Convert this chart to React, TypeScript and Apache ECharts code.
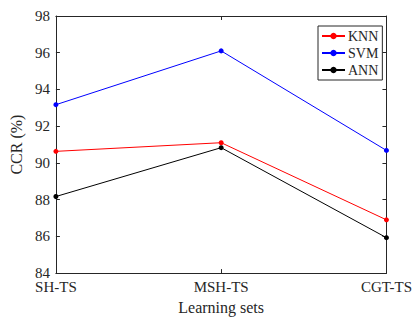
import React, { useEffect, useRef } from "react";
import * as echarts from "echarts";

const categories = ["SH-TS", "MSH-TS", "CGT-TS"];
const knn = [90.63, 91.1, 86.9];
const svm = [93.17, 96.1, 90.68];
const ann = [88.17, 90.83, 85.93];
const seriesNames = ["KNN", "SVM", "ANN"];
const seriesColors = ["#ff0000", "#0000ff", "#000000"];

const FONT = "'Liberation Serif', 'Times New Roman', serif";
const AXIS = "#262626";

export default function App() {
  const ref = useRef<HTMLDivElement>(null);
  useEffect(() => {
    if (!ref.current) return;
    const chart = echarts.init(ref.current, undefined, { renderer: "svg" });
    const values = [knn, svm, ann];
    const xBase = {
      type: "category" as const,
      data: categories,
      boundaryGap: false,
      axisLine: { show: true, lineStyle: { color: AXIS, width: 1 } },
      axisTick: { show: true, inside: true, length: 4, lineStyle: { color: AXIS } },
      splitLine: { show: false },
    };
    const yBase = {
      type: "value" as const,
      min: 84,
      max: 98,
      interval: 2,
      axisLine: { show: true, lineStyle: { color: AXIS, width: 1 } },
      axisTick: { show: true, inside: true, length: 4, lineStyle: { color: AXIS } },
      splitLine: { show: false },
    };
    chart.setOption({
      animation: false,
      backgroundColor: "#ffffff",
      textStyle: { fontFamily: FONT },
      grid: { left: 50, top: 16, right: 26, bottom: 44, containLabel: false },
      legend: {
        orient: "vertical",
        left: 318,
        top: 26,
        data: seriesNames,
        backgroundColor: "#ffffff",
        borderColor: AXIS,
        borderWidth: 1,
        padding: [3, 4, 3, 3],
        itemWidth: 23,
        itemHeight: 8,
        itemGap: 3,
        textStyle: { fontFamily: FONT, fontSize: 14, color: AXIS, lineHeight: 14, padding: [0, 0, 0, -2] },
      },
      xAxis: [
        {
          ...xBase,
          position: "bottom",
          name: "Learning sets",
          nameLocation: "middle",
          nameGap: 24,
          nameTextStyle: { fontFamily: FONT, fontSize: 16, color: AXIS },
          axisLabel: { fontFamily: FONT, fontSize: 15, color: AXIS, margin: 6 },
        },
        { ...xBase, position: "top", axisLabel: { show: false } },
      ],
      yAxis: [
        {
          ...yBase,
          position: "left",
          name: "CCR (%)",
          nameLocation: "middle",
          nameGap: 24,
          nameTextStyle: { fontFamily: FONT, fontSize: 16, color: AXIS },
          axisLabel: { fontFamily: FONT, fontSize: 15, color: AXIS, margin: 6 },
        },
        { ...yBase, position: "right", axisLabel: { show: false } },
      ],
      series: seriesNames.map((n, i) => ({
        name: n,
        type: "line",
        xAxisIndex: 0,
        yAxisIndex: 0,
        data: values[i],
        symbol: "circle",
        symbolSize: 5,
        itemStyle: { color: seriesColors[i] },
        lineStyle: { color: seriesColors[i], width: 1 },
      })),
    });
    return () => chart.dispose();
  }, []);
  return (
    <div
      ref={ref}
      style={{ position: "fixed", left: 0, top: 0, width: 415, height: 320 }}
    />
  );
}
